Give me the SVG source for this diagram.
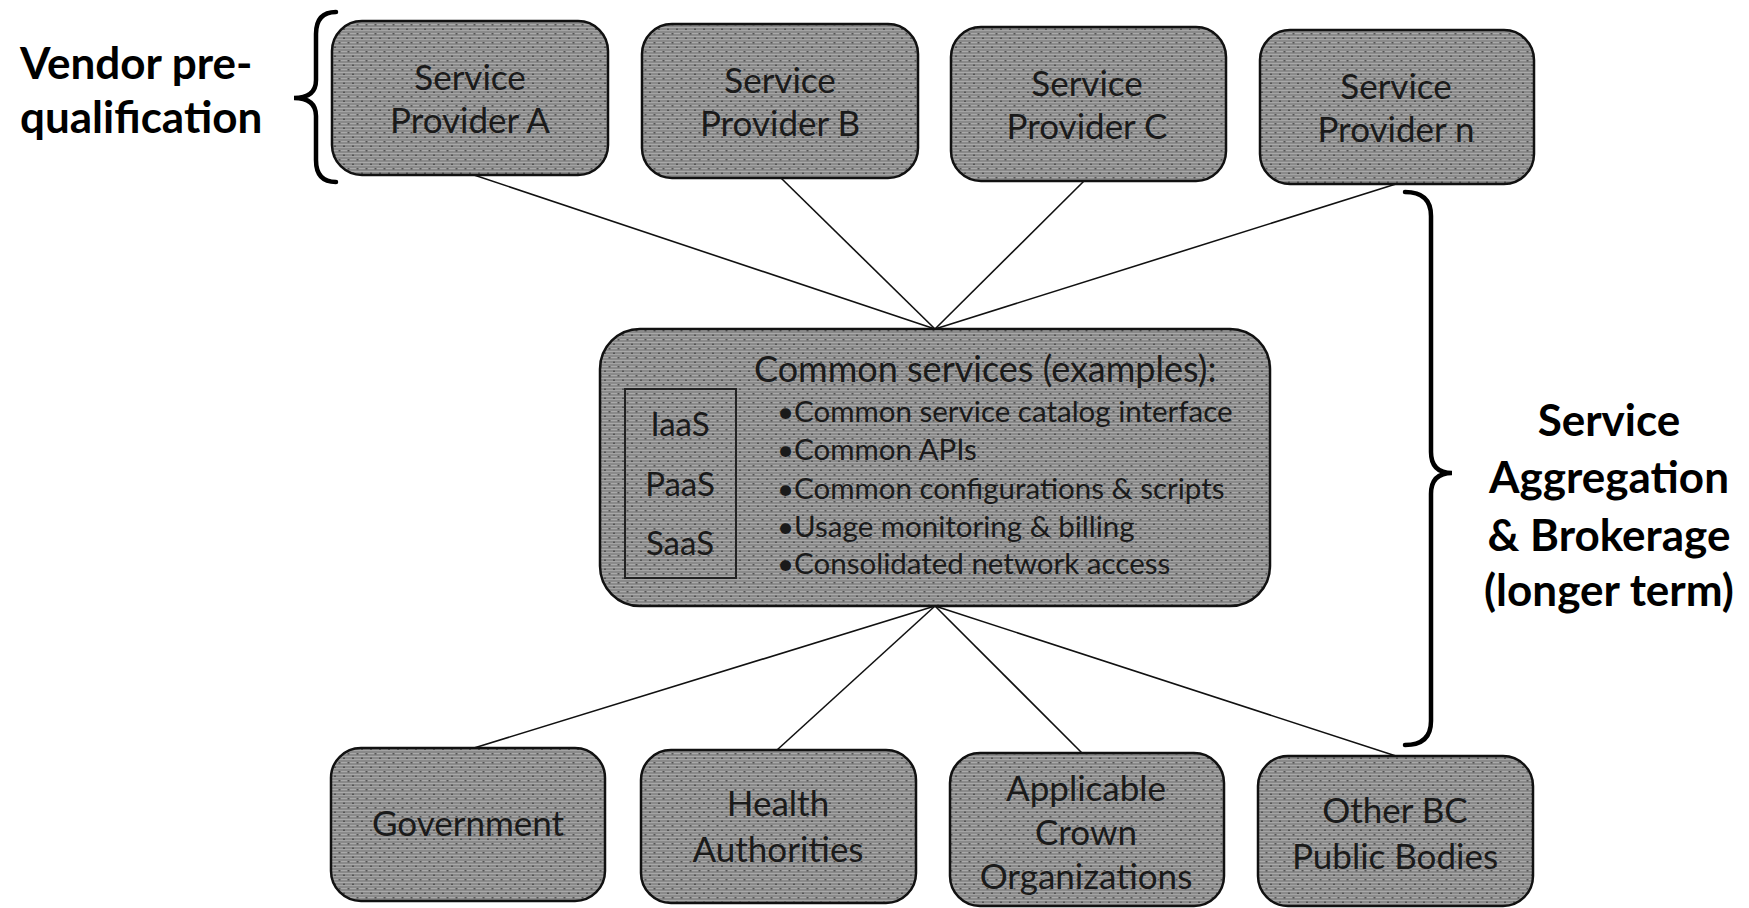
<svg xmlns="http://www.w3.org/2000/svg" width="1749" height="908" viewBox="0 0 1749 908">
  <defs>
    <!-- halftone-style gray fill used by every box -->
    <pattern id="screen" width="9" height="9" patternUnits="userSpaceOnUse">
      <rect width="9" height="9" fill="#8a8a8a"/>
      <rect y="0" width="9" height="1" fill="#a9a9a9"/>
      <rect y="3" width="9" height="1" fill="#a4a4a4"/>
      <rect y="6" width="9" height="1" fill="#a9a9a9"/>
      <rect x="1" y="1.5" width="2" height="1.5" fill="#555"/>
      <rect x="5.5" y="6" width="2" height="1.5" fill="#555"/>
    </pattern>
    <style>
      .box { fill: url(#screen); stroke: #111; stroke-width: 2.5; }
      .inner { fill: none; stroke: #222; stroke-width: 2; }
      .link { stroke: #111; stroke-width: 1.6; fill: none; }
      .brace { stroke: #000; stroke-width: 4.5; fill: none; stroke-linecap: round; }
      .lbl { font-family: Lato, "Open Sans", sans-serif; font-size: 35px; fill: #1a1a1a; text-anchor: middle; }
      .body { font-family: Lato, "Open Sans", sans-serif; font-size: 29.5px; fill: #1a1a1a; }
      .big { font-family: Lato, "Open Sans", sans-serif; font-weight: bold; font-size: 44px; fill: #000; }
    </style>
  </defs>
  <rect width="1749" height="908" fill="#fff"/>

  <!-- connectors -->
  <g id="connectors">
    <line class="link" x1="935" y1="329" x2="474" y2="175"/>
    <line class="link" x1="935" y1="329" x2="781" y2="178"/>
    <line class="link" x1="935" y1="329" x2="1084" y2="181"/>
    <line class="link" x1="935" y1="329" x2="1396" y2="184"/>
    <line class="link" x1="935" y1="606" x2="474" y2="748"/>
    <line class="link" x1="935" y1="606" x2="777" y2="750"/>
    <line class="link" x1="935" y1="606" x2="1082" y2="753"/>
    <line class="link" x1="935" y1="606" x2="1396" y2="756"/>
  </g>

  <!-- service providers -->
  <g id="provider-a">
    <rect class="box" x="332" y="21" width="276" height="154" rx="30"/>
    <text class="lbl" x="470" y="90">Service</text>
    <text class="lbl" x="470" y="133">Provider A</text>
  </g>
  <g id="provider-b">
    <rect class="box" x="642" y="24" width="276" height="154" rx="30"/>
    <text class="lbl" x="780" y="93">Service</text>
    <text class="lbl" x="780" y="136">Provider B</text>
  </g>
  <g id="provider-c">
    <rect class="box" x="951" y="27" width="275" height="154" rx="30"/>
    <text class="lbl" x="1087" y="96">Service</text>
    <text class="lbl" x="1087" y="139">Provider C</text>
  </g>
  <g id="provider-n">
    <rect class="box" x="1260" y="30" width="274" height="154" rx="30"/>
    <text class="lbl" x="1396" y="99">Service</text>
    <text class="lbl" x="1396" y="142">Provider n</text>
  </g>

  <!-- common services hub -->
  <g id="common-services">
    <rect class="box" x="600" y="329" width="670" height="277" rx="40"/>
    <rect class="inner" x="625" y="389" width="111" height="189"/>
    <text class="lbl" x="680" y="436" style="font-size:33px">IaaS</text>
    <text class="lbl" x="680" y="496" style="font-size:33px">PaaS</text>
    <text class="lbl" x="680" y="555" style="font-size:33px">SaaS</text>
    <text class="body" x="754" y="382" style="font-size:36px">Common services (examples):</text>
    <text class="body" x="777" y="422">•Common service catalog interface</text>
    <text class="body" x="777" y="460">•Common APIs</text>
    <text class="body" x="777" y="499">•Common configurations &amp; scripts</text>
    <text class="body" x="777" y="537">•Usage monitoring &amp; billing</text>
    <text class="body" x="777" y="574">•Consolidated network access</text>
  </g>

  <!-- consumers -->
  <g id="government">
    <rect class="box" x="331" y="748" width="274" height="153" rx="30"/>
    <text class="lbl" x="468" y="836">Government</text>
  </g>
  <g id="health-authorities">
    <rect class="box" x="641" y="750" width="275" height="153" rx="30"/>
    <text class="lbl" x="778" y="816">Health</text>
    <text class="lbl" x="778" y="862">Authorities</text>
  </g>
  <g id="crown-organizations">
    <rect class="box" x="950" y="753" width="274" height="153" rx="30"/>
    <text class="lbl" x="1086" y="801">Applicable</text>
    <text class="lbl" x="1086" y="845">Crown</text>
    <text class="lbl" x="1086" y="889">Organizations</text>
  </g>
  <g id="other-public-bodies">
    <rect class="box" x="1258" y="756" width="275" height="150" rx="30"/>
    <text class="lbl" x="1395" y="823">Other BC</text>
    <text class="lbl" x="1395" y="869">Public Bodies</text>
  </g>

  <!-- left brace and label -->
  <g id="vendor-prequalification">
    <path class="brace" d="M336 12 Q316 12 316 34 L316 80 Q316 98 294 98 Q316 98 316 116 L316 160 Q316 182 336 182"/>
    <text class="big" x="20" y="79">Vendor pre-</text>
    <text class="big" x="20" y="133">qualification</text>
  </g>

  <!-- right brace and label -->
  <g id="service-aggregation">
    <path class="brace" d="M1405 192 Q1431 192 1431 216 L1431 452 Q1431 473 1452 473 Q1431 473 1431 494 L1431 721 Q1431 745 1405 745"/>
    <text class="big" x="1609" y="436" text-anchor="middle">Service</text>
    <text class="big" x="1609" y="493" text-anchor="middle">Aggregation</text>
    <text class="big" x="1609" y="551" text-anchor="middle">&amp; Brokerage</text>
    <text class="big" x="1609" y="606" text-anchor="middle">(longer term)</text>
  </g>
</svg>
